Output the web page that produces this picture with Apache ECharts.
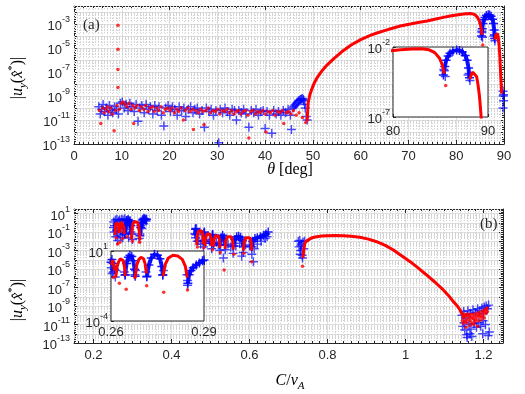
<!DOCTYPE html>
<html>
<head>
<meta charset="utf-8">
<script src="https://cdn.jsdelivr.net/npm/echarts@6/dist/echarts.min.js"></script>
<style>html,body{margin:0;padding:0;background:#fff}#chart{width:525px;height:394px}</style>
</head>
<body>
<div id="chart"></div>
<script>
// all values are [x, log10|u_y|]

// ---- panel (a): theta [deg]
const blueNoiseA = [[5.2,-9.9],[5.5,-10.5],[5.8,-10.1],[6.1,-9.7],[6.4,-10.3],[6.8,-10.0],[7.1,-10.6],[7.4,-9.8],[7.8,-10.2],[8.1,-10.4],[8.5,-9.9],[8.9,-10.1],[9.3,-10.5],[9.7,-9.6],
  [10.1,-9.5],[10.5,-10.0],[10.9,-9.7],[11.3,-10.2],[11.7,-9.6],[12.1,-9.9],[12.6,-10.3],[13.0,-9.7],[13.4,-11.1],[13.8,-10.0],[14.2,-9.8],[14.7,-10.4],[15.1,-9.7],[15.6,-10.1],[16.0,-9.9],[16.5,-10.5],[16.9,-9.8],[17.4,-10.2],[17.8,-9.9],[18.3,-10.6],[18.8,-11.5],[19.2,-10.0],[19.7,-9.8],
  [20.2,-10.3],[20.6,-9.9],[21.1,-10.1],[21.6,-10.6],[22.0,-9.9],[22.5,-10.2],[23.0,-10.0],[23.4,-10.7],[23.9,-10.1],[24.4,-9.9],[24.9,-10.4],[25.3,-10.1],[25.8,-10.0],[26.3,-10.5],[26.8,-10.2],[27.3,-11.6],[27.7,-10.0],[28.2,-10.3],[28.7,-10.1],[29.2,-10.6],[29.7,-10.2],[30.3,-12.9],
  [30.6,-10.1],[31.1,-10.4],[31.6,-10.0],[32.1,-10.3],[32.6,-10.6],[33.1,-10.1],[33.6,-10.2],[34.0,-11.0],[34.5,-10.2],[35.0,-10.4],[35.5,-10.1],[36.0,-10.5],[36.6,-11.6],[37.1,-10.2],[37.6,-10.4],[38.1,-10.1],[38.6,-10.6],[39.1,-10.3],[39.6,-10.2],[40.0,-11.7],
  [40.4,-10.3],[40.9,-10.6],[41.4,-12.1],[41.8,-10.2],[42.3,-10.5],[42.8,-10.3],[43.3,-10.6],[43.8,-10.2],[44.3,-10.4],[44.8,-10.1],[45.3,-10.6],[45.5,-11.8],[45.8,-10.0],[46.0,-9.9],[46.2,-9.8],[46.4,-9.7],[46.6,-9.6],[46.8,-9.5],[47.0,-9.4],[47.2,-9.35],[47.4,-9.3],[47.6,-9.25],[47.8,-9.2],[48.0,-9.3],[48.1,-9.4],[48.3,-9.7],[48.4,-10.0],[48.6,-10.7],[48.8,-11.0],
  [85.35,-3.6],[85.4,-3.7],[85.5,-4.1],[87.9,-4.0],[88.0,-3.9],[88.1,-4.4],[89.8,-8.6],[89.85,-9.0],[89.9,-9.4],[89.8,-10.0],[89.9,-8.9]];
const redNoiseA = [[5.3,-10.2],[5.6,-11.3],[6.0,-10.0],[6.3,-10.4],[6.7,-10.1],[7.0,-9.9],[7.3,-10.3],[7.7,-10.0],[8.0,-10.5],[8.4,-11.9],[8.7,-10.2],[9.0,-9.8],
  [9.2,-8.3],[9.2,-6.8],[9.2,-5.1],[9.2,-3.1],[9.5,-10.1],[9.9,-9.6],[10.3,-9.5],[10.7,-9.7],[11.1,-9.9],[11.5,-9.6],[11.9,-10.1],[12.3,-9.8],[12.5,-11.3],[12.8,-10.0],[13.2,-9.8],[13.7,-10.2],[14.1,-9.9],[14.6,-10.1],[15.0,-9.8],[15.5,-10.3],[15.9,-10.0],[16.4,-9.9],[16.8,-10.3],[17.3,-10.0],[17.7,-10.2],[18.2,-9.9],[18.7,-10.4],[19.1,-10.1],[19.6,-10.0],
  [20.1,-10.2],[20.5,-10.0],[21.0,-10.4],[21.5,-10.1],[21.9,-10.3],[22.4,-10.0],[22.9,-11.0],[23.3,-10.2],[23.8,-10.0],[24.3,-10.3],[24.8,-10.1],[25.0,-11.8],[25.5,-10.2],[26.0,-10.4],[26.5,-10.1],[27.0,-10.3],[27.2,-11.4],[27.6,-10.2],[28.1,-10.0],[28.6,-10.4],[29.1,-10.2],[29.6,-10.3],
  [30.1,-10.1],[30.5,-10.5],[31.0,-10.2],[31.5,-10.3],[32.0,-10.1],[32.5,-10.4],[33.0,-10.2],[33.5,-10.5],[34.0,-10.3],[34.4,-10.2],[34.9,-10.5],[35.4,-10.3],[35.9,-10.2],[36.4,-10.6],[36.6,-12.5],[37.0,-10.3],[37.5,-10.2],[38.0,-10.5],[38.5,-10.3],[39.0,-10.4],[39.5,-10.2],
  [40.0,-10.5],[40.2,-12.0],[40.6,-10.3],[41.1,-10.4],[41.6,-10.2],[42.1,-10.6],[42.6,-10.3],[43.1,-10.4],[43.6,-10.2],[43.9,-11.3],[44.4,-10.4],[44.9,-10.3],[45.4,-10.5],[45.9,-10.2],[46.5,-10.6],[47.1,-10.4],[47.8,-10.8],[48.5,-11.2],[85.55,-4.75]];
const redCurveA = [[48.8,-11.1],[49.0,-9.6],[49.3,-9.0],[49.7,-8.5],[50.3,-7.9],[51,-7.4],[52,-6.85],[53,-6.4],[54.5,-5.85],[56.4,-5.2],[58,-4.75],[60,-4.3],[62,-3.95],[63.4,-3.75],[65,-3.55],[66.8,-3.33],[68.5,-3.15],[70.4,-3.0],[72,-2.87],[73.9,-2.75],[75.5,-2.6],[77.3,-2.45],[79,-2.32],[80.8,-2.2],[82,-2.15],[83,-2.12],[83.8,-2.2],[84.4,-2.4],[84.9,-2.8],[85.2,-3.3],[85.4,-3.9]];
const redArchA = [[88.1,-4.3],[88.25,-3.95],[88.4,-3.8],[88.6,-3.78],[88.8,-4.1],[88.95,-4.7],[89.1,-5.5],[89.2,-6.3],[89.3,-7.2],[89.4,-8.0],[89.5,-8.8]];
const blueArchA = [[85.3,-4.0],[85.45,-3.4],[85.6,-2.95],[85.8,-2.65],[86.0,-2.45],[86.3,-2.3],[86.7,-2.22],[87.0,-2.25],[87.3,-2.35],[87.6,-2.6],[87.8,-2.95],[87.95,-3.5],[88.05,-4.2]];

// ---- panel (b): C/v_A
const blueCrossB = [[0.251,-0.5],[0.252,0.1],[0.253,-1.0],[0.254,-0.3],[0.256,0.3],[0.257,-1.5],[0.259,-0.8],[0.260,0.4],[0.262,-1.2],[0.264,0.2],[0.266,-0.6],[0.267,0.3],[0.269,-1.4],[0.270,-0.2],[0.272,0.4],[0.274,-0.9],[0.276,0.3],[0.278,-0.5],[0.280,0.45],[0.282,-1.1],[0.284,0.2],[0.286,-0.4],[0.288,0.3],[0.290,-1.6],[0.292,-0.7],[0.294,0.2],[0.296,-1.0],[0.300,-1.8],[0.317,-1.7],[0.319,-1.2],[0.321,-0.3],[0.323,0.1],[0.325,0.3],[0.327,0.4],[0.329,0.5],[0.331,0.45],[0.333,0.3],[0.335,0.2],[0.324,-0.6],[0.328,-0.1],[0.262,-1.9],[0.275,-1.6],
  [0.462,-1.6],[0.466,-2.0],[0.47,-1.9],[0.475,-2.3],[0.482,-2.6],[0.487,-2.2],[0.49,-1.8],[0.497,-2.0],[0.503,-2.8],[0.508,-2.3],[0.515,-2.1],[0.52,-2.4],[0.524,-3.0],[0.533,-3.8],[0.538,-2.9],[0.545,-2.3],[0.552,-2.6],[0.558,-3.3],[0.565,-2.5],[0.575,-2.2],[0.58,-3.6],[0.584,-3.2],[0.59,-2.4],[0.6,-2.5],[0.606,-3.4],[0.61,-4.2],[0.612,-2.8],[0.62,-2.3],[0.63,-2.0],[0.64,-1.7],[0.645,-1.5],
  [0.725,-2.0],[0.727,-2.6],[0.729,-1.9],[0.731,-3.0],[0.733,-2.3],[0.735,-3.5],[0.737,-2.1],[0.739,-2.8],[0.741,-2.0],[0.736,-3.8],[0.732,-2.5],[0.73,-3.4],
  [1.145,-10.0],[1.147,-11.2],[1.149,-9.6],[1.152,-11.6],[1.155,-10.3],[1.157,-12.1],[1.16,-9.5],[1.163,-11.0],[1.166,-9.8],[1.168,-11.5],[1.17,-12.3],[1.173,-9.4],[1.176,-10.9],[1.179,-9.7],[1.182,-11.3],[1.185,-9.3],[1.188,-10.8],[1.19,-9.5],[1.193,-11.2],[1.196,-9.2],[1.199,-10.6],[1.202,-9.1],[1.205,-11.0],[1.207,-9.0],[1.21,-9.3],[1.213,-8.9],[1.215,-11.8],[1.212,-12.2],[1.158,-12.4],[1.165,-12.0],[1.15,-10.8],[1.198,-12.0],[1.2,-9.8]];
const redDotB = [[0.258,-1.6],[0.2615,-2.3],[0.268,-2.1],[0.274,-1.7],[0.286,-1.5],[0.2995,-2.0],[0.3185,-2.1],
  [0.4665,-2.6],[0.483,-2.7],[0.505,-2.9],[0.525,-3.2],[0.535,-5.1],[0.56,-3.4],[0.585,-3.3],[0.606,-4.2],[0.736,-4.7],
  [1.146,-10.6],[1.148,-10.9],[1.150,-10.2],[1.152,-10.7],[1.154,-10.0],[1.156,-10.5],[1.158,-10.8],[1.160,-10.1],[1.162,-10.4],[1.164,-9.9],[1.166,-10.6],[1.168,-10.2],[1.170,-10.8],[1.172,-9.9],[1.174,-10.4],[1.176,-10.1],[1.178,-10.7],[1.180,-9.8],[1.182,-10.3],[1.184,-10.0],[1.186,-10.6],[1.188,-9.7],[1.190,-10.2],[1.192,-9.9],[1.194,-10.5],[1.196,-9.6],[1.198,-10.0],[1.200,-9.5],[1.202,-10.3],[1.204,-9.4],[1.206,-9.8],[1.208,-9.3],[1.210,-9.6],[1.155,-11.3],[1.165,-11.1],[1.185,-11.2],[1.175,-11.0],[1.157,-9.9],[1.163,-10.0],[1.171,-10.3],[1.179,-10.5],[1.187,-10.0],[1.195,-10.2],[1.203,-9.7],[1.209,-9.2],[1.151,-9.9]];
const redArchesB = [
  [[0.2555,-1.3],[0.2565,-0.4],[0.258,0.0],[0.2605,0.2],[0.263,0.15],[0.265,-0.2],[0.2665,-1.1]],
  [[0.268,-1.0],[0.2695,-0.2],[0.2715,0.1],[0.274,0.2],[0.2765,0.05],[0.278,-0.5],[0.279,-1.2]],
  [[0.2975,-1.8],[0.2985,-0.8],[0.301,-0.1],[0.305,0.15],[0.309,0.2],[0.313,0.05],[0.316,-0.4],[0.318,-1.2],[0.319,-1.9]],
  [[0.4646,-2.4],[0.466,-1.4],[0.469,-0.9],[0.473,-0.75],[0.477,-0.85],[0.480,-1.3],[0.4816,-2.3]],
  [[0.4859,-2.5],[0.4875,-1.6],[0.491,-1.2],[0.4945,-1.1],[0.498,-1.2],[0.501,-1.6],[0.503,-2.5]],
  [[0.5072,-2.6],[0.509,-1.8],[0.5125,-1.4],[0.516,-1.3],[0.5195,-1.4],[0.523,-1.8],[0.5244,-2.7]],
  [[0.5372,-2.8],[0.539,-2.0],[0.543,-1.5],[0.548,-1.4],[0.553,-1.5],[0.557,-2.0],[0.5585,-2.9]],
  [[0.5841,-3.0],[0.586,-2.1],[0.5905,-1.6],[0.595,-1.5],[0.6,-1.6],[0.6045,-2.1],[0.6056,-3.0]]];
const blueArchesB = [
  [[0.280,-1.2],[0.282,-0.2],[0.285,0.25],[0.289,0.35],[0.293,0.2],[0.296,-0.3],[0.2975,-1.2]],
  [[0.319,-1.4],[0.321,-0.5],[0.324,0.0],[0.328,0.3],[0.332,0.4],[0.336,0.4]],
  [[0.460,-1.2],[0.4615,-0.7],[0.463,-0.6],[0.4646,-1.3]],
  [[0.4816,-2.0],[0.483,-1.1],[0.4845,-1.0],[0.4859,-2.0]],
  [[0.503,-2.2],[0.5045,-1.3],[0.506,-1.25],[0.5072,-2.2]],
  [[0.5244,-2.4],[0.527,-1.6],[0.531,-1.35],[0.535,-1.6],[0.5372,-2.4]],
  [[0.5585,-2.5],[0.562,-1.8],[0.567,-1.5],[0.572,-1.45],[0.577,-1.55],[0.582,-1.9],[0.5841,-2.6]],
  [[0.6056,-2.6],[0.608,-2.0],[0.614,-1.7],[0.62,-1.6],[0.628,-1.5],[0.636,-1.35],[0.642,-1.2],[0.648,-1.0]]];
const redCurveB = [[0.737,-3.8],[0.739,-3.0],[0.742,-2.2],[0.746,-1.95],[0.751,-1.78],[0.76,-1.62],[0.772,-1.5],[0.785,-1.43],[0.798,-1.39],[0.82,-1.37],[0.84,-1.39],[0.86,-1.45],[0.883,-1.56],[0.905,-1.76],[0.926,-2.04],[0.948,-2.44],[0.969,-2.94],[0.99,-3.55],[1.012,-4.2],[1.033,-4.9],[1.054,-5.64],[1.075,-6.4],[1.097,-7.26],[1.11,-7.85],[1.123,-8.53],[1.133,-9.0],[1.14,-9.43],[1.148,-10.1],[1.15,-10.4]];

// ---- inset of (b), C/v_A in [0.26, 0.29]
const insRedArches = [
  [[0.2602,0.0],[0.2605,0.35],[0.2608,0.3],[0.2612,-0.4]],
  [[0.2615,-0.9],[0.262,-0.1],[0.2625,0.25],[0.263,0.45],[0.2635,0.5],[0.264,0.3],[0.2644,-0.2],[0.2646,-0.8]],
  [[0.2678,-0.9],[0.2683,0.0],[0.269,0.4],[0.2697,0.55],[0.2705,0.45],[0.271,0.1],[0.2714,-0.6]],
  [[0.2768,-0.8],[0.2775,0.05],[0.2785,0.5],[0.28,0.7],[0.2815,0.65],[0.283,0.4],[0.284,-0.1],[0.2846,-0.9]]];
const insBlueArches = [
  [[0.2600,0.2],[0.2603,0.4],[0.2607,0.1],[0.2611,-0.3]],
  [[0.2646,-0.7],[0.265,0.1],[0.2656,0.55],[0.2661,0.7],[0.2667,0.6],[0.2672,0.3],[0.2676,-0.3],[0.2678,-0.8]],
  [[0.2716,-0.8],[0.2722,0.0],[0.273,0.5],[0.274,0.76],[0.275,0.7],[0.2758,0.45],[0.2764,-0.1],[0.2767,-0.7]],
  [[0.2848,-1.3],[0.2852,-0.7],[0.2858,-0.4],[0.2865,-0.2],[0.2875,0.0],[0.2885,0.15],[0.2895,0.3],[0.29,0.36]]];
const insBlueCross = [[0.2601,-0.2],[0.2604,-0.6],[0.2607,-0.5],[0.2614,-0.86],[0.2616,-0.4],[0.2645,-0.74],[0.2643,-0.5],[0.2677,-0.7],[0.2679,-0.4],[0.2715,-0.86],[0.2713,-0.5],[0.2767,-0.74],[0.2769,-0.4],[0.2847,-1.45],[0.2847,-1.1],[0.2845,-0.7]];
const insRedDot = [[0.2608,-0.9],[0.2627,-1.3],[0.2649,-1.74],[0.2677,-0.9],[0.2715,-1.48],[0.277,-1.95],[0.2847,-1.79]];

const ink = '#262626';
const blue = 'rgba(0,0,255,0.88)';
const red = '#ff0000';
const cross = 'path://M3.35,0H4.65V3.35H8V4.65H4.65V8H3.35V4.65H0V3.35H3.35Z';
const sans = 'Liberation Sans';
const serif = 'Liberation Serif';

const powRich = {
  b: {fontSize: 13, fontFamily: sans, color: ink, lineHeight: 18, verticalAlign: 'bottom'},
  s: {fontSize: 9, fontFamily: sans, color: ink, lineHeight: 9, verticalAlign: 'top'}
};
const pow = v => '{b|10}{s|' + v + '}';
const oddPow = v => (Math.abs(v % 2) === 1 ? pow(v) : '');

// dotted minor grid at 2..9 x 10^n
function minorLog(min, max) {
  const out = [];
  for (let n = min; n < max; n++) {
    for (let k = 2; k <= 9; k++) {
      const v = n + Math.log10(k);
      if (v < max) out.push({yAxis: v});
    }
  }
  return out;
}

const majorSplit = {show: true, lineStyle: {color: '#dedede', width: 1}};
const minorSplit = {show: true, lineStyle: {color: '#d4d4d4', width: 1, type: [1, 2]}};

function boxX(grid, min, max, pos) {
  return {gridIndex: grid, type: 'value', min, max, position: pos,
    axisLine: {show: true, onZero: false, lineStyle: {color: ink}},
    axisTick: {show: true, inside: true, length: 4, lineStyle: {color: ink}},
    minorTick: {show: true, splitNumber: 10, length: 2, lineStyle: {color: ink}},
    axisLabel: {show: false}, splitLine: {show: false}};
}
function boxY(grid, min, max, pos) {
  return {gridIndex: grid, type: 'value', min, max, interval: 1, position: pos,
    axisLine: {show: true, onZero: false, lineStyle: {color: ink}},
    axisTick: {show: true, inside: true, length: 4, lineStyle: {color: ink}},
    minorTick: {show: true, splitNumber: 5, length: 2, lineStyle: {color: ink}},
    axisLabel: {show: false}, splitLine: {show: false}};
}

const xA = Object.assign(boxX(0, 0, 90, 'bottom'), {
  interval: 10,
  axisLabel: {show: true, fontSize: 13, fontFamily: sans, color: ink, margin: 6},
  splitLine: majorSplit, minorSplitLine: minorSplit
});
const xB = Object.assign(boxX(1, 0.15, 1.25, 'bottom'), {
  splitNumber: 5,
  axisLabel: {show: true, fontSize: 13, fontFamily: sans, color: ink, margin: 6,
    formatter: v => (Math.abs(v / 0.2 - Math.round(v / 0.2)) < 1e-6 ? String(+v.toFixed(1)) : '')},
  splitLine: majorSplit, minorSplitLine: minorSplit
});
const yA = Object.assign(boxY(0, -13, -1.5, 'left'), {
  axisLabel: {show: true, formatter: oddPow, rich: powRich, margin: 4},
  splitLine: majorSplit
});
const yB = Object.assign(boxY(1, -13, 1.5, 'left'), {
  axisLabel: {show: true, formatter: oddPow, rich: powRich, margin: 4},
  splitLine: majorSplit
});

function insetX(grid, min, max, interval, fmt, margin) {
  return {gridIndex: grid, type: 'value', min, max, interval, z: 11,
    axisLine: {show: false}, splitLine: {show: false},
    axisTick: {show: true, inside: true, length: 3, lineStyle: {color: ink}},
    axisLabel: {fontSize: 13, fontFamily: sans, color: ink, margin, formatter: fmt, showMinLabel: true, showMaxLabel: true}};
}
function insetY(grid, min, max) {
  return {gridIndex: grid, type: 'value', min, max, interval: 5, z: 11,
    axisLine: {show: false}, splitLine: {show: false},
    axisTick: {show: true, inside: true, length: 3, lineStyle: {color: ink}},
    axisLabel: {formatter: pow, rich: powRich, margin: 3, showMinLabel: true, showMaxLabel: true}};
}

function crosses(data, xi, yi, z) {
  return {type: 'scatter', xAxisIndex: xi, yAxisIndex: yi, data, symbol: cross, symbolSize: 9,
    itemStyle: {color: blue}, z, silent: true, animation: false};
}
function dots(data, xi, yi, z) {
  return {type: 'scatter', xAxisIndex: xi, yAxisIndex: yi, data, symbol: 'circle', symbolSize: 3.5,
    itemStyle: {color: red}, z, silent: true, animation: false};
}
function redLine(data, xi, yi, z) {
  return {type: 'line', xAxisIndex: xi, yAxisIndex: yi, data, showSymbol: false, symbol: 'none',
    lineStyle: {color: red, width: 3}, z, silent: true, animation: false};
}
function blueLine(data, xi, yi, z) {
  return {type: 'line', xAxisIndex: xi, yAxisIndex: yi, data, symbol: cross, symbolSize: 9, showAllSymbol: true,
    itemStyle: {color: blue}, lineStyle: {color: blue, width: 4}, z, silent: true, animation: false};
}
function gridLines(xi, yi, min, max) {
  return {type: 'line', xAxisIndex: xi, yAxisIndex: yi, data: [], z: 1, silent: true, animation: false,
    markLine: {silent: true, z: 1, symbol: 'none', label: {show: false}, animation: false,
      lineStyle: {color: '#d4d4d4', width: 1, type: [1, 2]}, data: minorLog(min, max)}};
}

const series = [
  gridLines(0, 0, -13, -1.5),
  gridLines(2, 2, -13, 1.5),
  // (a)
  crosses(blueNoiseA, 0, 0, 2),
  blueLine(blueArchA, 0, 0, 3),
  dots(redNoiseA, 0, 0, 4),
  redLine(redCurveA, 0, 0, 4),
  redLine(redArchA, 0, 0, 4),
  // (b)
  crosses(blueCrossB, 2, 2, 2),
  ...blueArchesB.map(a => blueLine(a, 2, 2, 3)),
  ...redArchesB.map(a => redLine(a, 2, 2, 4)),
  redLine(redCurveB, 2, 2, 4),
  dots(redDotB, 2, 2, 5),
  // inset (a)
  blueLine(blueArchA, 4, 4, 12),
  crosses(blueNoiseA.filter(p => p[0] >= 80), 4, 4, 12),
  redLine(redCurveA, 4, 4, 13),
  redLine(redArchA, 4, 4, 13),
  dots(redNoiseA.filter(p => p[0] >= 80), 4, 4, 13),
  // inset (b)
  ...insBlueArches.map(a => blueLine(a, 5, 5, 12)),
  crosses(insBlueCross, 5, 5, 12),
  ...insRedArches.map(a => redLine(a, 5, 5, 13)),
  dots(insRedDot, 5, 5, 13)
];

const nameRich = {
  n: {fontFamily: serif, fontSize: 16, color: ink, lineHeight: 22, verticalAlign: 'middle'},
  i: {fontFamily: serif, fontStyle: 'italic', fontSize: 16, color: ink, lineHeight: 22, verticalAlign: 'middle'},
  sub: {fontFamily: serif, fontStyle: 'italic', fontSize: 11, color: ink, lineHeight: 11, verticalAlign: 'bottom'},
  sup: {fontFamily: serif, fontSize: 11, color: ink, lineHeight: 11, verticalAlign: 'top'}
};
const yName = '{n|\u007c}{i|u}{sub|y}{n|(}{i|x\u0302}{sup|*}{n|)\u007c}';

const chart = echarts.init(document.getElementById('chart'), null, {renderer: 'canvas'});
chart.setOption({
  backgroundColor: '#fff',
  animation: false,
  grid: [
    {left: 74, top: 6, width: 430, height: 138},
    {left: 74, top: 209, width: 429, height: 134},
    {left: 393, top: 47, width: 95, height: 70, show: true, backgroundColor: '#fff', borderColor: ink, borderWidth: 1, z: 10},
    {left: 111, top: 251, width: 93, height: 70, show: true, backgroundColor: '#fff', borderColor: ink, borderWidth: 1, z: 10}
  ],
  xAxis: [
    xA, boxX(0, 0, 90, 'top'),
    xB, boxX(1, 0.15, 1.25, 'top'),
    insetX(2, 80, 90, 10, v => String(v), 8),
    insetX(3, 0.26, 0.29, 0.03, v => v.toFixed(2), 5)
  ],
  yAxis: [
    yA, boxY(0, -13, -1.5, 'right'),
    yB, boxY(1, -13, 1.5, 'right'),
    insetY(2, -7, -2),
    insetY(3, -4, 1)
  ],
  series,
  graphic: [
    {type: 'text', left: 83, top: 18, z: 20, style: {text: '(a)', font: '15px "Liberation Serif"', fill: ink}},
    {type: 'text', left: 480, top: 217, z: 20, style: {text: '(b)', font: '15px "Liberation Serif"', fill: ink}},
    {type: 'text', x: 290, y: 170, z: 20, style: {text: '{i|θ}{n| [deg]}', rich: nameRich, align: 'center', verticalAlign: 'middle'}},
    {type: 'text', x: 290, y: 381, z: 20, style: {text: '{i|C}{n|/}{i|v}{sub|A}', rich: nameRich, align: 'center', verticalAlign: 'middle'}},
    {type: 'text', x: 18, y: 78, rotation: Math.PI / 2, z: 20, style: {text: yName, rich: nameRich, align: 'center', verticalAlign: 'middle'}},
    {type: 'text', x: 18, y: 300, rotation: Math.PI / 2, z: 20, style: {text: yName, rich: nameRich, align: 'center', verticalAlign: 'middle'}}
  ]
});
</script>
</body>
</html>
